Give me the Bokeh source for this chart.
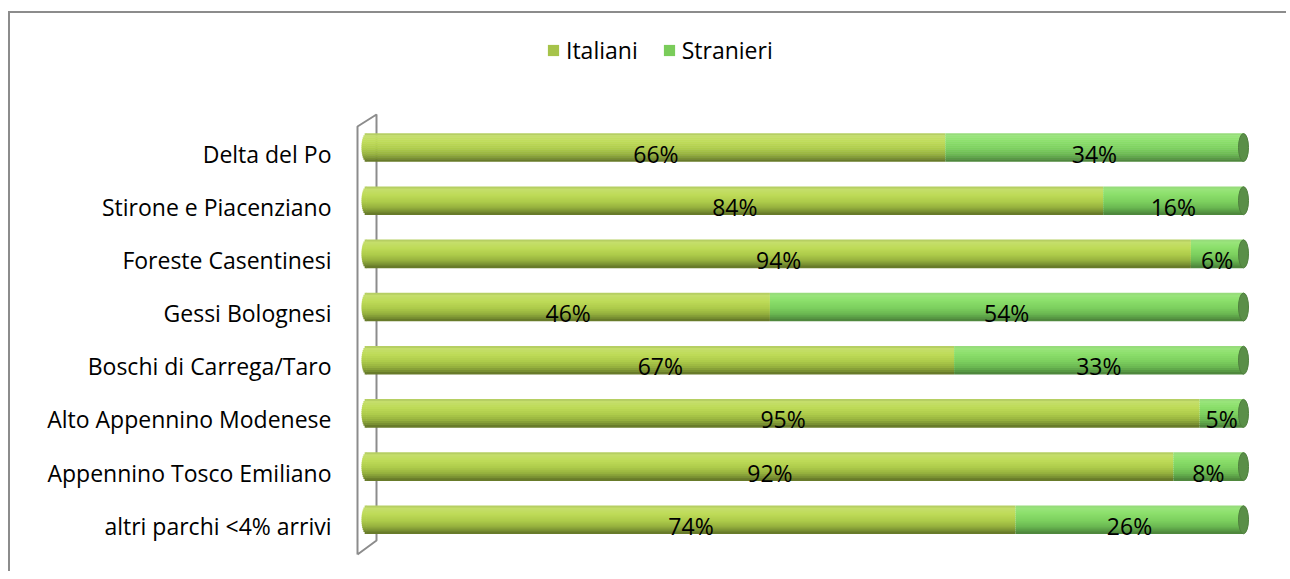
import numpy as np
from bokeh.plotting import figure
from bokeh.models import ColumnDataSource, Range1d, Legend, LegendItem, FixedTicker
from bokeh.core.properties import value
from bokeh.embed import file_html
from bokeh.resources import INLINE

categories = ["Delta del Po", "Stirone e Piacenziano", "Foreste Casentinesi", "Gessi Bolognesi",
              "Boschi di Carrega/Taro", "Alto Appennino Modenese", "Appennino Tosco Emiliano",
              "altri parchi <4% arrivi"]
italiani = [66, 84, 94, 46, 67, 95, 92, 74]
stranieri = [34, 16, 6, 54, 33, 5, 8, 26]
series_names = ["Italiani", "Stranieri"]

FONT = "Open Sans"
FS = "23px"

# ---- layout (pixel based styling) ----
X0_PX = 366                # page x of value 0
PX_PER_X = 8.77            # px per percent unit
UNIT_Y = 53.18             # px per category row
BAR_PX = 28
BAR_OFF = 6 / UNIT_Y       # bars sit slightly above the category line
CAP_A = 5.0 / PX_PER_X     # half width of the end ellipse, in x units

# page coords: canvas origin at (10, 13); frame left at page 340, right at 1288
x_start = (340 - X0_PX) / PX_PER_X
x_end = (1288 - X0_PX) / PX_PER_X
y_top = (13 - 153) / UNIT_Y
y_bot = (565 - 153) / UNIT_Y

ypos = list(range(len(categories)))

p = figure(width=1278, height=560, output_backend="svg", toolbar_location=None,
           x_range=Range1d(x_start, x_end), y_range=Range1d(y_bot, y_top),
           min_border_left=330, min_border_right=0, min_border_top=0, min_border_bottom=8)
p.styles = {"border-top": "2px solid #8c8c8c", "border-left": "2px solid #8c8c8c",
            "margin-top": "11px", "margin-left": "8px"}
p.outline_line_color = None
p.xgrid.visible = False
p.ygrid.visible = False
p.xaxis.visible = False
p.yaxis.ticker = FixedTicker(ticks=ypos)
p.yaxis.major_label_overrides = {i: c for i, c in zip(ypos, categories)}
p.yaxis.axis_line_color = None
p.yaxis.major_tick_line_color = None
p.yaxis.minor_tick_line_color = None
p.yaxis.major_tick_out = 0
p.yaxis.major_tick_in = 0
p.yaxis.major_label_standoff = 9
p.yaxis.major_label_text_font = FONT
p.yaxis.major_label_text_font_size = FS
p.yaxis.major_label_text_color = "#000000"

# 3D back wall outline
def yy(py):
    return (py - 153) / UNIT_Y
def xx(px):
    return (px - X0_PX) / PX_PER_X
p.line([xx(357), xx(357), xx(376), xx(376), xx(357)],
       [yy(554), yy(126), yy(114), yy(540), yy(554)],
       line_color="#8c8c8c", line_width=2)

lefts_it = [0] * len(categories)
rights_it = italiani
lefts_st = italiani
rights_st = [a + b for a, b in zip(italiani, stranieri)]

src = ColumnDataSource(dict(y=ypos, it=italiani, st=stranieri,
                            mid_it=[(a + b) / 2 for a, b in zip(lefts_it, rights_it)],
                            mid_st=[(a + b) / 2 for a, b in zip(lefts_st, rights_st)],
                            lab_it=[f"{v}%" for v in italiani],
                            lab_st=[f"{v}%" for v in stranieri]))

prof_it = [(0.0, "#aac35a"), (0.08, "#c6de6e"), (0.3, "#bedb58"), (0.55, "#adcb4a"),
           (0.75, "#95b03e"), (0.9, "#788e31"), (1.0, "#5f7126")]
prof_st = [(0.0, "#95d47a"), (0.08, "#9ae57c"), (0.3, "#8ade6a"), (0.55, "#7ccf5e"),
           (0.75, "#6bb852"), (0.9, "#579843"), (1.0, "#4a7f39")]

def interp(prof, t):
    for (t0, c0), (t1, c1) in zip(prof[:-1], prof[1:]):
        if t0 <= t <= t1:
            f = (t - t0) / (t1 - t0) if t1 > t0 else 0
            a = np.array([int(c0[i:i + 2], 16) for i in (1, 3, 5)])
            b = np.array([int(c1[i:i + 2], 16) for i in (1, 3, 5)])
            c = np.round(a + (b - a) * f).astype(int)
            return "#%02x%02x%02x" % tuple(c)
    return prof[-1][1]

N = 14
h = BAR_PX / N
for i in range(N):
    t = (i + 0.5) / N
    yc_px = BAR_PX / 2 - (i + 0.5) * h          # px above bar centre
    off = -(BAR_OFF + yc_px / UNIT_Y)
    s = yc_px / (BAR_PX / 2)
    cap = CAP_A * np.sqrt(max(0.0, 1 - s * s))
    hh = (h + 0.6) / UNIT_Y
    ys = [v + off for v in ypos]
    p.hbar(y=ys, left=lefts_it, right=rights_it, height=hh,
           fill_color=interp(prof_it, t), line_color=None)
    p.hbar(y=ys, left=-cap, right=0.05, height=hh,
           fill_color=interp(prof_it, t), line_color=None)
    p.hbar(y=ys, left=lefts_st, right=rights_st, height=hh,
           fill_color=interp(prof_st, t), line_color=None)

# right end cap face
p.ellipse(x=rights_st, y=[v - BAR_OFF for v in ypos], width=10, height=BAR_PX,
          width_units="screen", height_units="screen",
          fill_color="#5a8f48", line_color="#4f7f3e", line_width=1)

# data labels
for xcol, lcol in (("mid_it", "lab_it"), ("mid_st", "lab_st")):
    p.text(x=xcol, y="y", text=lcol, source=src, text_align="center",
           text_baseline="middle", text_font=value(FONT), text_font_size=FS,
           text_color="#000000")

# legend swatches (renderers placed far outside the visible x range)
off_x = x_end + 200
leg_it = p.hbar(y=[3], left=[off_x], right=[off_x + 1], height=0.5,
                fill_color="#a6c34a", line_color=None)
leg_st = p.hbar(y=[3], left=[off_x], right=[off_x + 1], height=0.5,
                fill_color="#7acc5a", line_color=None)
legend = Legend(items=[LegendItem(label=series_names[0], renderers=[leg_it]),
                       LegendItem(label=series_names[1], renderers=[leg_st])],
                orientation="horizontal", location=(206, 499),
                glyph_width=14, glyph_height=14, label_standoff=6, spacing=24,
                padding=0, margin=0, border_line_color=None, background_fill_alpha=0,
                label_text_font=FONT, label_text_font_size=FS, label_text_color="#000000")
p.add_layout(legend, "center")

open("out.html", "w").write(file_html(p, INLINE))
